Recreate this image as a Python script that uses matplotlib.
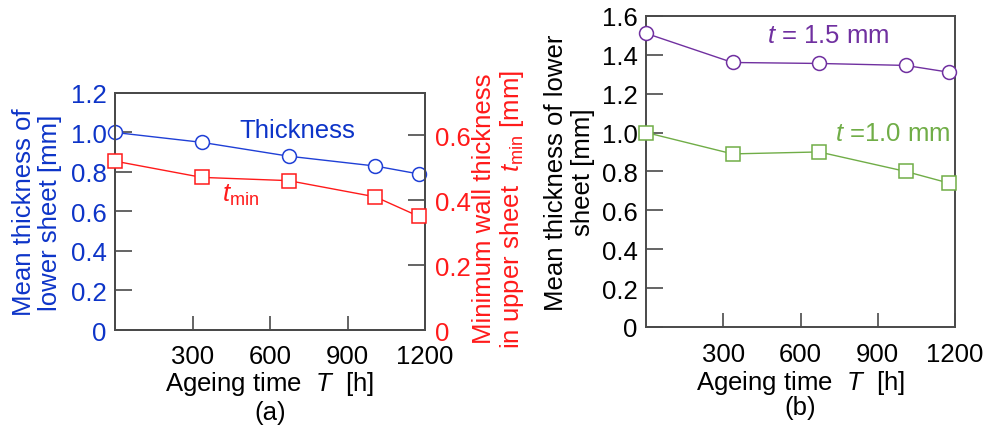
import matplotlib
matplotlib.use("Agg")
import matplotlib.pyplot as plt

plt.rcParams['font.family'] = ['Liberation Sans', 'DejaVu Sans']
plt.rcParams['mathtext.fontset'] = 'custom'
plt.rcParams['mathtext.rm'] = 'Liberation Sans'
plt.rcParams['mathtext.it'] = 'Liberation Sans:italic'
plt.rcParams['mathtext.bf'] = 'Liberation Sans:bold'

# Ageing times [h]
ageing_time = [0, 336, 672, 1008, 1176]

# (a) mean thickness of lower sheet [mm] and minimum wall thickness of upper sheet [mm]
thickness_a = [1.00, 0.95, 0.88, 0.83, 0.79]
tmin_a = [0.52, 0.47, 0.46, 0.41, 0.35]

# (b) mean thickness of lower sheet [mm] for two sheet thicknesses
thick_15 = [1.51, 1.36, 1.355, 1.345, 1.31]
thick_10 = [1.00, 0.89, 0.90, 0.80, 0.74]

x_ticks = [300, 600, 900, 1200]
left_ticks_a = [0, 0.2, 0.4, 0.6, 0.8, 1.0, 1.2]
left_labels_a = ['0', '0.2', '0.4', '0.6', '0.8', '1.0', '1.2']
right_ticks_a = [0, 0.2, 0.4, 0.6]
right_labels_a = ['0', '0.2', '0.4', '0.6']
ticks_b = [0, 0.2, 0.4, 0.6, 0.8, 1.0, 1.2, 1.4, 1.6]
labels_b = ['0', '0.2', '0.4', '0.6', '0.8', '1.0', '1.2', '1.4', '1.6']

BLUE = '#1f3fd6'
BLUE_TXT = '#0d34c8'
RED = '#ff1a1a'
PURPLE = '#7030a0'
GREEN = '#70ad47'
SPINE = '#4a4a4a'
FS = 18.5

fig = plt.figure(figsize=(10, 4.31), dpi=100)
ax_a = fig.add_axes([0.115, 0.232, 0.310, 0.550])
ax_b = fig.add_axes([0.646, 0.239, 0.309, 0.722])


def frame(ax):
    for s in ax.spines.values():
        s.set_color(SPINE)
        s.set_linewidth(1.4)
    ax.tick_params(direction='in', length=12, width=1.2, color=SPINE,
                   labelsize=FS)


def style(ax, xpad):
    frame(ax)
    ax.tick_params(axis='x', length=10, pad=xpad)
    ax.set_xlim(0, 1200)
    ax.set_xticks(x_ticks)
    ax.set_xticklabels([str(v) for v in x_ticks])
    ax.set_xlabel('Ageing time  $T$  [h]', fontsize=FS, labelpad=1)


# ---- (a) ----
style(ax_a, 10)
ax_a.set_ylim(0, 1.2)
ax_a.set_yticks(left_ticks_a)
ax_a.set_yticklabels(left_labels_a)
ax_a.tick_params(axis='y', labelcolor=BLUE_TXT, pad=6)
ax_a.plot(ageing_time, thickness_a, '-o', color=BLUE, lw=1.0, ms=10,
          mfc='white', mec=BLUE, mew=1.1, clip_on=False, zorder=5)
ax_a.set_ylabel('Mean thickness of\nlower sheet [mm]', color=BLUE_TXT,
                fontsize=FS, labelpad=6, linespacing=1.15)
ax_a.text(705, 1.01, 'Thickness', color=BLUE_TXT, fontsize=FS,
          ha='center', va='center')

ax_r = ax_a.twinx()
frame(ax_r)
ax_r.set_ylim(0, 0.73)
ax_r.set_yticks(right_ticks_a)
ax_r.set_yticklabels(right_labels_a)
ax_r.tick_params(axis='y', labelcolor=RED, pad=7)
ax_r.plot(ageing_time, tmin_a, '-s', color=RED, lw=1.0, ms=10,
          mfc='white', mec=RED, mew=1.1, clip_on=False, zorder=5)
ax_r.text(484, 0.418, '$t_{\\mathrm{min}}$', color=RED, fontsize=FS,
          ha='center', va='center')
fig.text(0.499, 0.515,
         'Minimum wall thickness\nin upper sheet  $t_{\\mathrm{min}}$ [mm]',
         color=RED, fontsize=FS, rotation=90, ha='center', va='center',
         linespacing=1.1)

# ---- (b) ----
style(ax_b, 11)
ax_b.set_ylim(0, 1.6)
ax_b.set_yticks(ticks_b)
ax_b.set_yticklabels(labels_b)
ax_b.tick_params(axis='y', pad=6)
ax_b.plot(ageing_time, thick_15, '-o', color=PURPLE, lw=1.0, ms=10,
          mfc='white', mec=PURPLE, mew=1.1, clip_on=False, zorder=5)
ax_b.plot(ageing_time, thick_10, '-s', color=GREEN, lw=1.0, ms=10,
          mfc='white', mec=GREEN, mew=1.1, clip_on=False, zorder=5)
ax_b.set_ylabel('Mean thickness of lower\nsheet [mm]', fontsize=FS,
                labelpad=5, linespacing=1.15)
ax_b.text(470, 1.5, '$t$ = 1.5 mm', color=PURPLE, fontsize=FS,
          ha='left', va='center')
ax_b.text(735, 1.0, '$t$ =1.0 mm', color=GREEN, fontsize=FS,
          ha='left', va='center')

fig.text(0.270, 0.042, '(a)', fontsize=FS, ha='center', va='center')
fig.text(0.800, 0.053, '(b)', fontsize=FS, ha='center', va='center')

fig.savefig('out.png', dpi=100)
